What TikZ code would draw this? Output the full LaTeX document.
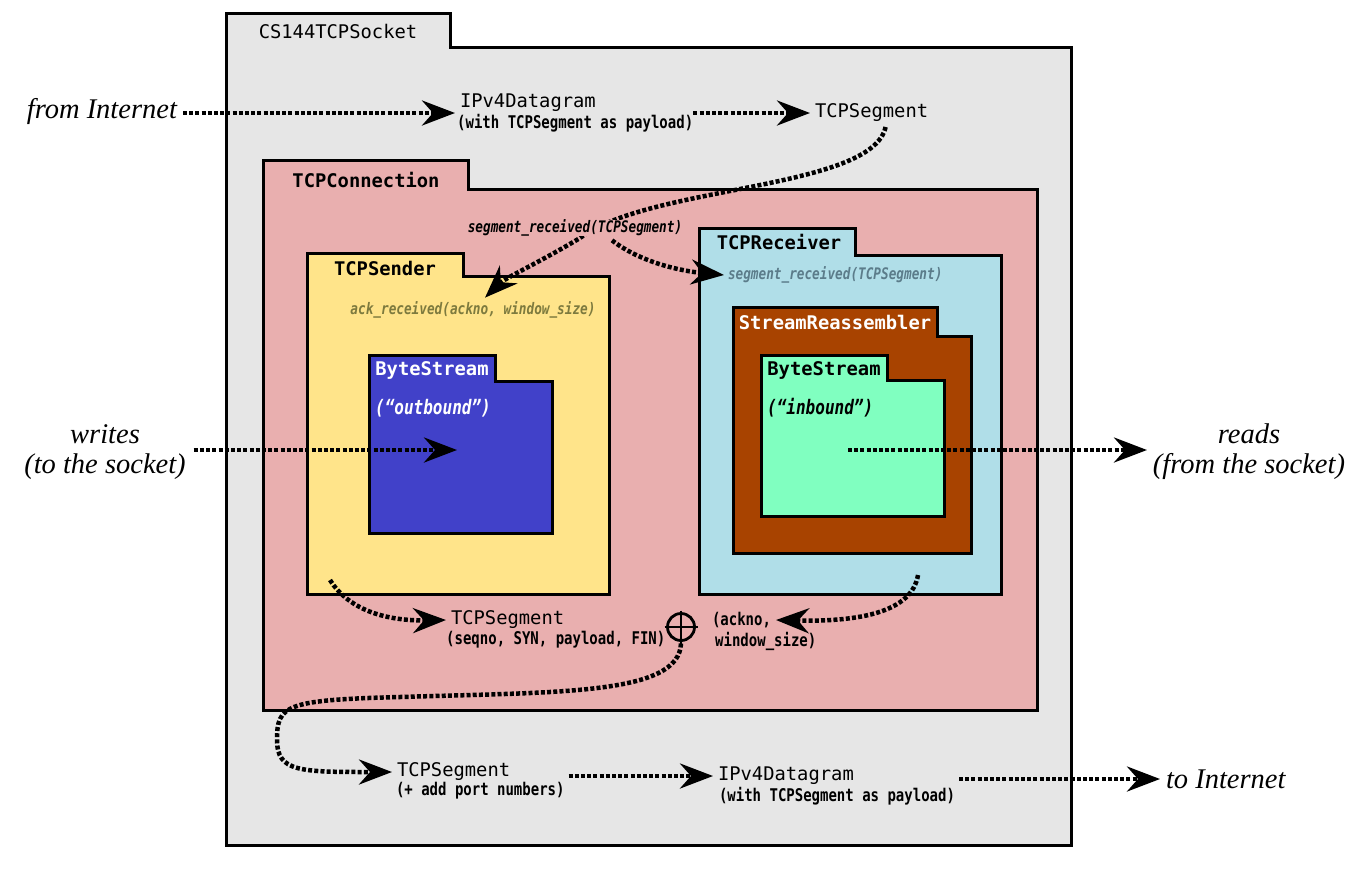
\documentclass[tikz,border=0pt]{standalone}
\usepackage{fontspec}
\setmonofont{DejaVu Sans Mono}
\newfontfamily\condf[FakeStretch=0.8]{DejaVu Sans Mono}
\newfontfamily\serifit{Liberation Serif}
\usetikzlibrary{arrows.meta}
\definecolor{sockgray}{HTML}{E6E6E6}
\definecolor{connpink}{HTML}{E9AFAF}
\definecolor{sendyel}{HTML}{FFE48A}
\definecolor{outblue}{HTML}{4141C9}
\definecolor{recvblue}{HTML}{B0DEE8}
\definecolor{reasbrown}{HTML}{A84300}
\definecolor{inmint}{HTML}{80FFC0}
\definecolor{olivetxt}{HTML}{7D7A3E}
\definecolor{slatetxt}{HTML}{5B7C8A}
\newcommand\mainf{\ttfamily\fontsize{18.8}{22}\selectfont}
\newcommand\titlef{\ttfamily\bfseries\fontsize{18.8}{22}\selectfont}
\newcommand\subf{\condf\bfseries\fontsize{17.5}{20}\selectfont}
\newcommand\fnf{\condf\bfseries\itshape\fontsize{15.9}{18}\selectfont}
\newcommand\quotef{\condf\bfseries\itshape\fontsize{20}{22}\selectfont}
\newcommand\serf{\serifit\itshape\fontsize{28.5}{30}\selectfont}
\newcommand\folderbox[7]{\draw[folder, fill=#7] (#1,#6) -- (#1,#2) -- (#3,#2) -- (#3,#4) -- (#5,#4) -- (#5,#6) -- cycle;}
\tikzset{
  folder/.style={draw=black, line width=3pt, line join=miter},
  boxtitle/.style={font=\titlef, inner sep=0pt},
  mainlbl/.style={font=\mainf, inner sep=0pt, outer sep=5pt, anchor=west},
  sublbl/.style={font=\subf, inner sep=0pt, anchor=west},
  fnlbl/.style={font=\fnf, inner sep=0pt, outer sep=4pt},
  serlbl/.style={font=\serf, inner sep=0pt, outer sep=6pt, align=center},
  flowline/.style={line width=4.5pt, dash pattern=on 4pt off 2.2pt},
  flow/.style={flowline, -{Stealth[length=33pt,width=25pt,inset=11pt]}},
}
\begin{document}
\begin{tikzpicture}[x=1pt,y=-1pt]
\useasboundingbox (0,0) rectangle (1366,868);
\fill[white] (0,0) rectangle (1366,868);
% boxes
\folderbox{226}{13}{450}{47}{1071}{845}{sockgray}
\folderbox{263}{160}{468}{189}{1037}{710}{connpink}
\folderbox{307}{253}{463}{276}{609}{594}{sendyel}
\folderbox{369}{355}{495}{381}{552}{533}{outblue}
\folderbox{699}{228}{855}{255}{1001}{594}{recvblue}
\folderbox{733}{307}{937}{336}{971}{553}{reasbrown}
\folderbox{761}{355}{887}{380}{944}{516}{inmint}
% titles
\node[boxtitle, font=\mainf] (tsock) at (338,31) {CS144TCPSocket};
\node[boxtitle] (tconn) at (366,180) {TCPConnection};
\node[boxtitle] (tsend) at (385,268) {TCPSender};
\node[boxtitle, text=white] (tbs1) at (432,370) {ByteStream};
\node[boxtitle] (trecv) at (779,242) {TCPReceiver};
\node[boxtitle, text=white] (treas) at (835,322) {StreamReassembler};
\node[boxtitle] (tbs2) at (824,370) {ByteStream};
% labels
\node[serlbl, anchor=east] (fromint) at (183,111) {from Internet};
\node[mainlbl] (ip1) at (455,103) {IPv4Datagram};
\node[sublbl] (ip1s) at (457,123) {(with TCPSegment as payload)};
\node[mainlbl] (seg1) at (810,113) {TCPSegment};
\node[fnlbl, text=olivetxt] (ackrec) at (473,310) {ack\_received(ackno, window\_size)};
\node[fnlbl, text=slatetxt, anchor=west] (rsegrec) at (724,275) {segment\_received(TCPSegment)};
\node[font=\quotef, text=white, inner sep=0pt, anchor=west] (outb) at (375,408) {(“outbound”)};
\node[font=\quotef, inner sep=0pt, anchor=west] (inb) at (767,408) {(“inbound”)};
\node[serlbl] (writes) at (105,452) {writes\\(to the socket)};
\node[serlbl] (reads) at (1249,452) {reads\\(from the socket)};
\node[mainlbl] (seg2) at (446,620) {TCPSegment};
\node[sublbl] (seg2s) at (446,640) {(seqno, SYN, payload, FIN)};
\node[draw, circle, line width=2.8pt, minimum size=27pt, inner sep=0pt, outer sep=3pt] (oplus) at (681,627) {};
\draw[line width=2.8pt] (oplus.north) -- (oplus.south) (oplus.west) -- (oplus.east);
\node[sublbl, outer sep=5pt] (ackw1) at (707,620) {(ackno,};
\node[sublbl] (ackw2) at (715,641) {window\_size)};
\node[mainlbl] (seg3) at (392,772) {TCPSegment};
\node[sublbl, outer sep=4pt] (seg3s) at (392,791) {(+ add port numbers)};
\node[mainlbl] (ip2) at (713,776) {IPv4Datagram};
\node[sublbl, outer sep=4pt] (ip2s) at (715,796) {(with TCPSegment as payload)};
\node[serlbl, anchor=west] (toint) at (1160,779) {to Internet};
% free ends
\coordinate (wtip) at (457,450);
\coordinate (rstart) at (848,450);
\coordinate (sendout) at (330,580);
\coordinate (recvout) at (918,575);
% connectors
\draw[flow] (fromint.east |- 0,113) -- (ip1.west |- 0,113);
\draw[flow] (ip1s.east |- seg1.west) -- (seg1.west);
\draw[flow] ([xshift=2pt]writes.east |- wtip) -- (wtip);
\draw[flow] (rstart) -- (reads.west |- rstart);
\draw[flow] ([xshift=14pt]seg1.south) .. controls (872,190) and (650,185) .. (580,238) .. controls (540,262) and (505,278) .. ([xshift=12pt]ackrec.north);
\node[fnlbl, fill=connpink] (segrec) at (575,228) {segment\_received(TCPSegment)};
\draw[flow] ([xshift=37pt]segrec.south) .. controls (640,262) and (680,271) .. (rsegrec.west);
\draw[flow] (sendout) .. controls (350,612) and (390,621) .. (seg2.west);
\draw[flow] (recvout) .. controls (912,612) and (860,622) .. (ackw1.east);
\draw[flow] (oplus.south) .. controls (679,695) and (560,692) .. (400,697) .. controls (285,700) and (277,705) .. (277,740) .. controls (277,772) and (300,772) .. (seg3.west);
\draw[flow] (seg3s.east |- ip2.west) -- (ip2.west);
\draw[flow] (ip2s.east |- toint.west) -- (toint.west);
\end{tikzpicture}
\end{document}
